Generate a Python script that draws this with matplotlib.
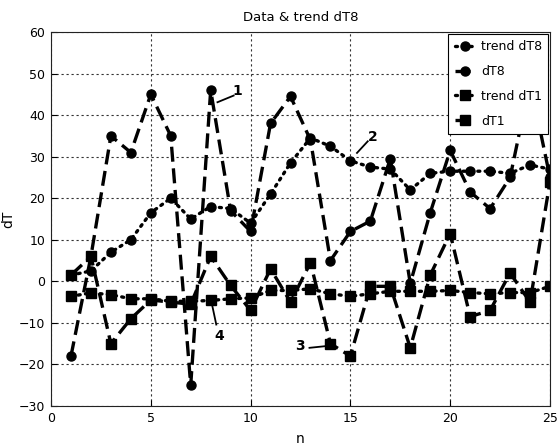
import matplotlib
matplotlib.use("Agg")
import matplotlib.pyplot as plt

n = list(range(1, 26))
dT8 = [-18, 6, 35, 31, 45, 35, -25, 46, 17, 12, 38, 44.5, 34, 5, 12, 14.5, 29.5, -0.5, 16.5, 31.5, 21.5, 17.5, 25, 48, 25]
trend_dT8 = [1.5, 2.5, 7, 10, 16.5, 20, 15, 18, 17.5, 14, 21, 28.5, 34.5, 32.5, 29, 27.5, 27, 22, 26, 26.5, 26.5, 26.5, 26, 28, 27]
dT1 = [1.5, 6, -15, -9, -4.5, -5, -5.5, 6, -1, -7, 3, -5, 4.5, -15, -18, -1.2, -1.2, -16, 1.5, 11.5, -8.5, -7, 2, -5, 24]
trend_dT1 = [-3.6, -2.8, -3.2, -4.2, -4.2, -4.8, -4.8, -4.6, -4.2, -4, -2.2, -2.2, -1.8, -3, -3.6, -3, -2.4, -2.4, -2.4, -2.2, -2.7, -3, -2.7, -2.7, -1.2]

title = "Data & trend dT8"
xticks = [0, 5, 10, 15, 20, 25]
yticks = [-30, -20, -10, 0, 10, 20, 30, 40, 50, 60]
labels = ["1", "2", "3", "4"]
label_text_pos = [(9.33, 45.9), (16.12, 34.8), (12.49, -15.5), (8.45, -13.2)]
label_line = [((8.34, 43.1), (9.15, 44.7)), ((15.33, 30.9), (15.87, 33.7)),
              ((12.95, -16.0), (13.95, -15.5)), ((8.09, -6.1), (8.28, -10.4))]

fs = 9

fig = plt.figure(figsize=(5.57, 4.48), dpi=100)
ax = fig.add_axes([51/557, 42/448, 499/557, 374/448])

lw = 2.4
dash = (4.5, 2)
dot = (0.6, 1.6)
ax.plot(n, trend_dT8, color="black", lw=lw, linestyle=(0, dot), marker="o", ms=6.5, label="trend dT8", dash_capstyle="round")
ax.plot(n, dT8, color="black", lw=lw, linestyle=(0, dash), marker="o", ms=6.5, label="dT8")
ax.plot(n, trend_dT1, color="black", lw=lw, linestyle=(0, dot), marker="s", ms=7, label="trend dT1", dash_capstyle="round")
ax.plot(n, dT1, color="black", lw=lw, linestyle=(0, dash), marker="s", ms=7, label="dT1")

for t, tp, ln in zip(labels, label_text_pos, label_line):
    ax.plot([ln[0][0], ln[1][0]], [ln[0][1], ln[1][1]], color="black", lw=1.3)
    ax.text(tp[0], tp[1], t, fontsize=10, fontweight="bold", ha="center", va="center")

ax.set_xlim(0, 25)
ax.set_ylim(-30, 60)
ax.set_xticks(xticks)
ax.set_yticks(yticks)
ax.grid(True, color="#333333", linestyle=(0, (2, 2.5)), linewidth=0.8)
ax.tick_params(direction="in", length=4, width=0.8, labelsize=fs, pad=4)
for s in ax.spines.values():
    s.set_linewidth(0.8)
    s.set_color("#222222")

ax.set_title(title, fontsize=9.5, pad=8)
ax.set_xlabel("n", fontsize=10, labelpad=5)
ax.set_ylabel("dT", fontsize=10)
ax.yaxis.set_label_coords(-0.072, 0.5)

leg = ax.legend(loc="upper right", handlelength=1.7, borderaxespad=0.15,
                frameon=True, fancybox=False, edgecolor="black", framealpha=1,
                prop=dict(size=fs),
                labelspacing=0.95, borderpad=0.5, handletextpad=0.4)
leg.get_frame().set_linewidth(0.8)

fig.savefig("out.png", dpi=100)
